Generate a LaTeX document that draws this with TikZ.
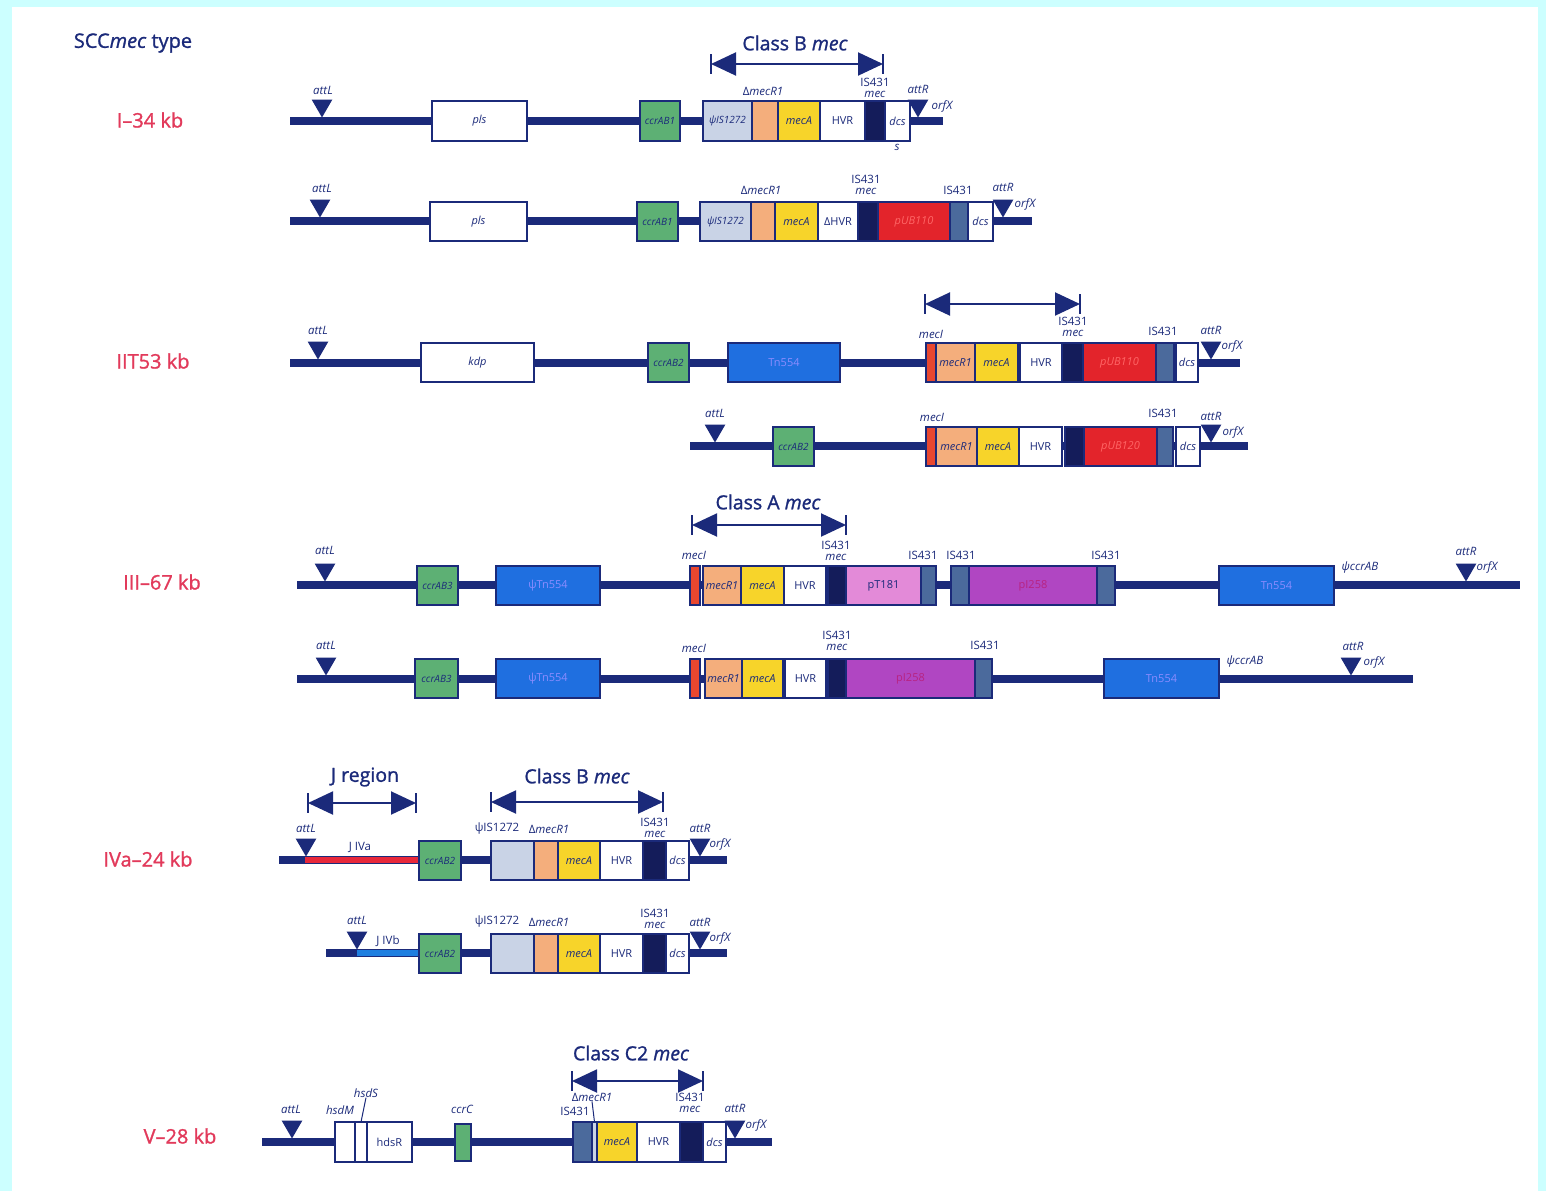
\documentclass[tikz,border=0pt]{standalone}
\usepackage{fontspec}
\setmainfont{Open Sans}
\newfontfamily\headfont[FakeBold=1.2]{Open Sans}
\usetikzlibrary{arrows.meta,shapes.geometric}
\definecolor{navy}{HTML}{1B2A7A}
\definecolor{isdark}{HTML}{141C5A}
\definecolor{ccrgreen}{HTML}{5DB074}
\definecolor{psiblue}{HTML}{C9D3E6}
\definecolor{mecRorange}{HTML}{F4AE7C}
\definecolor{mecAyellow}{HTML}{F7D42A}
\definecolor{pubred}{HTML}{E3242B}
\definecolor{isgray}{HTML}{4B6A9C}
\definecolor{mecIred}{HTML}{E8472F}
\definecolor{tnblue}{HTML}{1F6FE0}
\definecolor{ptpink}{HTML}{E38AD8}
\definecolor{pipurple}{HTML}{B046C2}
\definecolor{typered}{HTML}{E23A5B}
\definecolor{bgcyan}{HTML}{CCFFFF}
\definecolor{jblue}{HTML}{1E7FE0}
\definecolor{jred}{HTML}{E8283A}
\newcommand\gn[8]{\node[gene,fill=#6,minimum width={(#3-#2)*1pt},minimum height={(#5-#4)*1pt},#8] (#1) at ({(#2+#3)/2},{(#4+#5)/2}) {#7};}
\newcommand\attr[3]{\node[attri] (#1) at ({#2},{#3-15.5}) {};}
\newcommand\dimarrow[4]{%
  \coordinate (#1a) at ({#2},{#4}); \coordinate (#1b) at ({#3},{#4});
  \draw[dimline] (#1a) -- (#1b);
  \draw[tickline] ([yshift=10pt]#1a) -- ([yshift=-10pt]#1a) ([yshift=10pt]#1b) -- ([yshift=-10pt]#1b);}
\begin{document}
\begin{tikzpicture}[x=1pt,y=-1pt,
  bb/.style={draw=navy,line width=7.5pt},
  gene/.style={draw=navy,line width=1.8pt,inner sep=0pt,outer sep=0pt,text=navy,font=\fontsize{11}{12}\selectfont\itshape},
  up/.style={font=\fontsize{11}{12}\selectfont},
  sm/.style={font=\fontsize{10}{11}\selectfont\itshape},
  lab/.style={text=navy,inner sep=0pt,font=\fontsize{11.5}{11}\selectfont\itshape},
  ulab/.style={text=navy,inner sep=0pt,font=\fontsize{11.5}{11}\selectfont},
  islab/.style={text=navy,inner sep=0pt,align=center,font=\fontsize{11.5}{10.5}\selectfont},
  ttl/.style={text=navy,inner sep=0pt,font=\headfont\fontsize{19.5}{21}\selectfont},
  typ/.style={text=typered,inner sep=0pt,font=\headfont\fontsize{20}{22}\selectfont},
  attri/.style={regular polygon,regular polygon sides=3,shape border rotate=180,fill=navy,minimum size=24pt,inner sep=0pt},
  dimline/.style={draw=navy,line width=2pt,{Triangle[length=25pt,width=23pt]}-{Triangle[length=25pt,width=23pt]}},
  tickline/.style={draw=navy,line width=2pt},
  ptr/.style={draw=navy,line width=1pt}]
\useasboundingbox (0,0) rectangle (1546,1191);
\fill[bgcyan] (0,0) rectangle (1546,1191);
\fill[white] (12,7) rectangle (1538,1191);

% left labels
\node[ttl] (title) at (133,43) {\fontsize{20}{22}\selectfont SCC\textit{mec} type};
\node[typ] (t1) at (150,120) {I–34 kb};
\node[typ] (t2) at (153,361) {IIT53 kb};
\node[typ] (t3) at (162,582) {III–67 kb};
\node[typ] (t4) at (148,859) {IVa–24 kb};
\node[typ] (t5) at (180,1136) {V–28 kb};

% ===== Row I-1 =====
\coordinate (r1s) at (290,121); \coordinate (r1e) at (943,121);
\draw[bb] (r1s) -- (r1e);
\gn{r1pls}{432}{527}{101}{141}{white}{pls}{}
\gn{r1ccr}{640}{680}{101}{141}{ccrgreen}{ccrAB1}{sm}
\gn{r1psi}{703}{752}{101}{141}{psiblue}{ψIS1272}{sm}
\gn{r1mecR}{752}{778}{101}{141}{mecRorange}{}{}
\gn{r1mecA}{778}{820}{101}{141}{mecAyellow}{mecA}{}
\gn{r1hvr}{820}{865}{101}{141}{white}{HVR}{up}
\gn{r1is}{865}{885}{101}{141}{isdark}{}{}
\gn{r1dcs}{885}{910}{101}{141}{white}{dcs}{}
\attr{r1attL}{322}{121}
\attr{r1attR}{918}{121}
\node[lab] (r1l1) at (323,90) {attL};
\node[lab] (r1l2) at (918,89) {attR};
\node[lab] (r1l3) at (942,106) {orfX};
\node[ulab] (r1l4) at (763,91) {Δ\textit{mecR1}};
\node[islab] (r1l5) at (875,88) {IS431\\\textit{mec}};
\node[lab] (r1l6) at (897,147) {s};
\dimarrow{r1c}{711}{883}{64}
\node[ttl] (r1cl) at (795,43) {Class B \textit{mec}};

% ===== Row I-2 =====
\coordinate (r2s) at (290,221); \coordinate (r2e) at (1032,221);
\draw[bb] (r2s) -- (r2e);
\gn{r2pls}{430}{527}{202}{241}{white}{pls}{}
\gn{r2ccr}{637}{678}{202}{241}{ccrgreen}{ccrAB1}{sm}
\gn{r2psi}{700}{751}{202}{241}{psiblue}{ψIS1272}{sm}
\gn{r2mecR}{751}{775}{202}{241}{mecRorange}{}{}
\gn{r2mecA}{775}{818}{202}{241}{mecAyellow}{mecA}{}
\gn{r2hvr}{818}{858}{202}{241}{white}{ΔHVR}{up}
\gn{r2is}{858}{878}{202}{241}{isdark}{}{}
\gn{r2pub}{878}{950}{202}{241}{pubred}{pUB110}{text=red!60!white}
\gn{r2is2}{950}{968}{202}{241}{isgray}{}{}
\gn{r2dcs}{968}{993}{202}{241}{white}{dcs}{}
\attr{r2attL}{320}{221}
\attr{r2attR}{1003}{221}
\node[lab] (r2l1) at (322,188) {attL};
\node[lab] (r2l2) at (1003,187) {attR};
\node[lab] (r2l3) at (1025,204) {orfX};
\node[ulab] (r2l4) at (761,190) {Δ\textit{mecR1}};
\node[islab] (r2l5) at (866,185) {IS431\\\textit{mec}};
\node[ulab] (r2l6) at (958,190) {IS431};

% ===== Row II-1 =====
\coordinate (r3s) at (290,363); \coordinate (r3e) at (1240,363);
\draw[bb] (r3s) -- (r3e);
\gn{r3kdp}{421}{534}{343}{382}{white}{kdp}{}
\gn{r3ccr}{648}{689}{343}{382}{ccrgreen}{ccrAB2}{sm}
\gn{r3tn}{728}{840}{343}{382}{tnblue}{Tn554}{up,text=blue!45!white}
\gn{r3mecI}{926}{936}{343}{382}{mecIred}{}{}
\gn{r3mecR}{936}{975}{343}{382}{mecRorange}{mecR1}{}
\gn{r3mecA}{975}{1018}{343}{382}{mecAyellow}{mecA}{}
\gn{r3hvr}{1020}{1062}{343}{382}{white}{HVR}{up}
\gn{r3is}{1062}{1083}{343}{382}{isdark}{}{}
\gn{r3pub}{1083}{1156}{343}{382}{pubred}{pUB110}{text=red!60!white}
\gn{r3is2}{1156}{1174}{343}{382}{isgray}{}{}
\gn{r3dcs}{1176}{1198}{343}{382}{white}{dcs}{}
\attr{r3attL}{318}{363}
\attr{r3attR}{1211}{363}
\node[lab] (r3l1) at (318,330) {attL};
\node[lab] (r3l2) at (1211,330) {attR};
\node[lab] (r3l3) at (1232,346) {orfX};
\node[lab] (r3l4) at (931,334) {mecI};
\node[islab] (r3l5) at (1073,327) {IS431\\\textit{mec}};
\node[ulab] (r3l6) at (1163,331) {IS431};
\dimarrow{r3c}{925}{1080}{304}

% ===== Row II-2 =====
\coordinate (r4s) at (690,446); \coordinate (r4e) at (1248,446);
\draw[bb] (r4s) -- (r4e);
\gn{r4ccr}{773}{814}{427}{466}{ccrgreen}{ccrAB2}{sm}
\gn{r4mecI}{926}{936}{427}{466}{mecIred}{}{}
\gn{r4mecR}{936}{977}{427}{466}{mecRorange}{mecR1}{}
\gn{r4mecA}{977}{1019}{427}{466}{mecAyellow}{mecA}{}
\gn{r4hvr}{1019}{1062}{427}{466}{white}{HVR}{up}
\gn{r4is}{1065}{1084}{427}{466}{isdark}{}{}
\gn{r4pub}{1084}{1157}{427}{466}{pubred}{pUB120}{text=red!60!white}
\gn{r4is2}{1157}{1173}{427}{466}{isgray}{}{}
\gn{r4dcs}{1176}{1200}{427}{466}{white}{dcs}{}
\attr{r4attL}{715}{446}
\attr{r4attR}{1211}{446}
\node[lab] (r4l1) at (715,413) {attL};
\node[lab] (r4l2) at (1211,416) {attR};
\node[lab] (r4l3) at (1233,432) {orfX};
\node[lab] (r4l4) at (932,417) {mecI};
\node[ulab] (r4l6) at (1163,413) {IS431};

% ===== Row III-1 =====
\coordinate (r5s) at (297,585); \coordinate (r5e) at (1520,585);
\draw[bb] (r5s) -- (r5e);
\gn{r5ccr}{417}{458}{566}{605}{ccrgreen}{ccrAB3}{sm}
\gn{r5ptn}{496}{600}{566}{605}{tnblue}{ψTn554}{up,text=blue!45!white}
\gn{r5mecI}{690}{700}{566}{605}{mecIred}{}{}
\gn{r5mecR}{703}{741}{566}{605}{mecRorange}{mecR1}{}
\gn{r5mecA}{741}{784}{566}{605}{mecAyellow}{mecA}{}
\gn{r5hvr}{784}{826}{566}{605}{white}{HVR}{up}
\gn{r5is}{828}{846}{566}{605}{isdark}{}{}
\gn{r5pt}{846}{921}{566}{605}{ptpink}{pT181}{up}
\gn{r5is2}{921}{936}{566}{605}{isgray}{}{}
\gn{r5is3}{951}{969}{566}{605}{isgray}{}{}
\gn{r5pi}{969}{1097}{566}{605}{pipurple}{pI258}{up,text=purple!50!pipurple}
\gn{r5is4}{1097}{1115}{566}{605}{isgray}{}{}
\gn{r5tn}{1219}{1334}{566}{605}{tnblue}{Tn554}{up,text=blue!45!white}
\attr{r5attL}{325}{585}
\attr{r5attR}{1466}{585}
\node[lab] (r5l1) at (325,550) {attL};
\node[lab] (r5l2) at (1466,551) {attR};
\node[lab] (r5l3) at (1487,567) {orfX};
\node[lab] (r5l4) at (694,555) {mecI};
\node[islab] (r5l5) at (836,551) {IS431\\\textit{mec}};
\node[ulab] (r5l6) at (923,555) {IS431};
\node[ulab] (r5l7) at (961,555) {IS431};
\node[ulab] (r5l8) at (1106,555) {IS431};
\node[lab] (r5l9) at (1360,568) {ψccrAB};
\dimarrow{r5c}{692}{846}{525}
\node[ttl] (r5cl) at (768,502) {Class A \textit{mec}};

% ===== Row III-2 =====
\coordinate (r6s) at (297,679); \coordinate (r6e) at (1413,679);
\draw[bb] (r6s) -- (r6e);
\gn{r6ccr}{415}{458}{659}{698}{ccrgreen}{ccrAB3}{sm}
\gn{r6ptn}{496}{600}{659}{698}{tnblue}{ψTn554}{up,text=blue!45!white}
\gn{r6mecI}{690}{700}{659}{698}{mecIred}{}{}
\gn{r6mecR}{705}{742}{659}{698}{mecRorange}{mecR1}{}
\gn{r6mecA}{742}{783}{659}{698}{mecAyellow}{mecA}{}
\gn{r6hvr}{785}{826}{659}{698}{white}{HVR}{up}
\gn{r6is}{828}{846}{659}{698}{isdark}{}{}
\gn{r6pi}{846}{975}{659}{698}{pipurple}{pI258}{up,text=purple!50!pipurple}
\gn{r6is2}{975}{992}{659}{698}{isgray}{}{}
\gn{r6tn}{1104}{1219}{659}{698}{tnblue}{Tn554}{up,text=blue!45!white}
\attr{r6attL}{326}{679}
\attr{r6attR}{1351}{679}
\node[lab] (r6l1) at (326,645) {attL};
\node[lab] (r6l2) at (1353,646) {attR};
\node[lab] (r6l3) at (1374,662) {orfX};
\node[lab] (r6l4) at (694,648) {mecI};
\node[islab] (r6l5) at (837,641) {IS431\\\textit{mec}};
\node[ulab] (r6l6) at (985,645) {IS431};
\node[lab] (r6l9) at (1245,662) {ψccrAB};

% ===== Row IVa =====
\coordinate (r7s) at (279,860); \coordinate (r7e) at (727,860);
\coordinate (r7js) at (305,860); \coordinate (r7je) at (419,860);
\draw[bb] (r7s) -- (r7e);
\draw[draw=jred,line width=6pt] (r7js) -- (r7je);
\gn{r7ccr}{419}{461}{841}{880}{ccrgreen}{ccrAB2}{sm}
\gn{r7psi}{491}{534}{841}{880}{psiblue}{}{}
\gn{r7mecR}{534}{558}{841}{880}{mecRorange}{}{}
\gn{r7mecA}{558}{600}{841}{880}{mecAyellow}{mecA}{}
\gn{r7hvr}{600}{643}{841}{880}{white}{HVR}{up}
\gn{r7is}{643}{666}{841}{880}{isdark}{}{}
\gn{r7dcs}{666}{689}{841}{880}{white}{dcs}{}
\attr{r7attL}{306}{860}
\attr{r7attR}{700}{860}
\node[lab] (r7l1) at (306,828) {attL};
\node[lab] (r7l2) at (700,828) {attR};
\node[lab] (r7l3) at (720,844) {orfX};
\node[ulab] (r7l4) at (497,829) {ψIS1272};
\node[ulab] (r7l5) at (549,829) {Δ\textit{mecR1}};
\node[islab] (r7l6) at (655,828) {IS431\\\textit{mec}};
\node[ulab] (r7l7) at (360,847) {J IVa};
\dimarrow{r7j}{308}{416}{803}
\node[ttl] (r7jl) at (365,777) {J region};
\dimarrow{r7c}{491}{663}{802}
\node[ttl] (r7cl) at (577,776) {Class B \textit{mec}};

% ===== Row IVb =====
\coordinate (r8s) at (326,953); \coordinate (r8e) at (727,953);
\coordinate (r8js) at (357,953); \coordinate (r8je) at (419,953);
\draw[bb] (r8s) -- (r8e);
\draw[draw=jblue,line width=6pt] (r8js) -- (r8je);
\gn{r8ccr}{419}{461}{934}{973}{ccrgreen}{ccrAB2}{sm}
\gn{r8psi}{491}{534}{934}{973}{psiblue}{}{}
\gn{r8mecR}{534}{558}{934}{973}{mecRorange}{}{}
\gn{r8mecA}{558}{600}{934}{973}{mecAyellow}{mecA}{}
\gn{r8hvr}{600}{643}{934}{973}{white}{HVR}{up}
\gn{r8is}{643}{666}{934}{973}{isdark}{}{}
\gn{r8dcs}{666}{689}{934}{973}{white}{dcs}{}
\attr{r8attL}{357}{953}
\attr{r8attR}{700}{953}
\node[lab] (r8l1) at (357,920) {attL};
\node[lab] (r8l2) at (700,922) {attR};
\node[lab] (r8l3) at (720,938) {orfX};
\node[ulab] (r8l4) at (497,922) {ψIS1272};
\node[ulab] (r8l5) at (549,922) {Δ\textit{mecR1}};
\node[islab] (r8l6) at (655,919) {IS431\\\textit{mec}};
\node[ulab] (r8l7) at (388,941) {J IVb};

% ===== Row V =====
\coordinate (r9s) at (262,1142); \coordinate (r9e) at (772,1142);
\draw[bb] (r9s) -- (r9e);
\gn{r9hsdM}{335}{355}{1122}{1162}{white}{}{}
\gn{r9hsdS}{355}{367}{1122}{1162}{white}{}{}
\gn{r9hsdR}{367}{412}{1122}{1162}{white}{hdsR}{up}
\gn{r9ccr}{455}{471}{1124}{1161}{ccrgreen}{}{}
\gn{r9is1}{573}{592}{1122}{1162}{isgray}{}{}
\gn{r9strip}{592}{597}{1122}{1162}{psiblue}{}{}
\gn{r9mecA}{597}{637}{1122}{1162}{mecAyellow}{mecA}{}
\gn{r9hvr}{637}{680}{1122}{1162}{white}{HVR}{up}
\gn{r9is}{680}{703}{1122}{1162}{isdark}{}{}
\gn{r9dcs}{703}{726}{1122}{1162}{white}{dcs}{}
\attr{r9attL}{292}{1142}
\attr{r9attR}{735}{1142}
\node[lab] (r9l1) at (291,1109) {attL};
\node[lab] (r9l2) at (735,1108) {attR};
\node[lab] (r9l3) at (756,1125) {orfX};
\node[lab] (r9l4) at (340,1110) {hsdM};
\node[lab] (r9l5) at (366,1093) {hsdS};
\draw[ptr] (r9l5.south) -- (r9hsdS.north);
\node[lab] (r9l6) at (462,1109) {ccrC};
\node[ulab] (r9l7) at (592,1097) {Δ\textit{mecR1}};
\draw[ptr] (r9l7.south) -- (r9strip.north);
\node[ulab] (r9l8) at (575,1111) {IS431};
\node[islab] (r9l9) at (690,1103) {IS431\\\textit{mec}};
\dimarrow{r9c}{572}{703}{1081}
\node[ttl] (r9cl) at (631,1053) {Class C2 \textit{mec}};
\end{tikzpicture}
\end{document}
